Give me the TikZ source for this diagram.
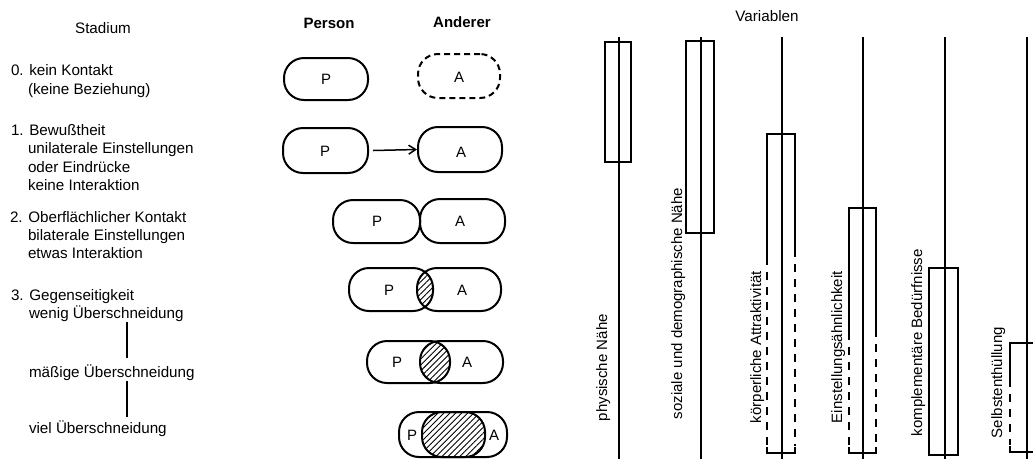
\documentclass[tikz,border=0pt]{standalone}
\usepackage{fontspec}
\setmainfont{Liberation Sans}
\usetikzlibrary{arrows.meta,patterns.meta}
\begin{document}
\begin{tikzpicture}[x=1pt,y=-1pt,
  txt/.style={inner sep=0pt,outer sep=0pt,font=\fontsize{15.2}{18}\selectfont},
  lbl/.style={txt,anchor=base west},
  hdr/.style={txt,anchor=base},
  bhdr/.style={txt,anchor=base,font=\bfseries\fontsize{15}{18}\selectfont},
  caps/.style={draw,line width=2pt,rounded corners=20pt,inner sep=0pt,outer sep=0pt},
  dcaps/.style={caps,dash pattern=on 6pt off 4pt},
  letter/.style={txt,font=\fontsize{15}{18}\selectfont},
  link/.style={line width=1.2pt},
  axis/.style={line width=2.3pt},
  bar/.style={line width=1.8pt},
  dbar/.style={line width=1.8pt,dash pattern=on 8pt off 7pt},
  vlab/.style={txt,rotate=90,anchor=base west,font=\fontsize{15}{18}\selectfont},
  hatch/.style={pattern={Lines[angle=45,distance=4.2pt,line width=0.9pt]}}]
\useasboundingbox (0,0) rectangle (1033,459);

% ---------- left column ----------
\node[hdr] (stadium) at (103,33) {Stadium};
\node[lbl] (t0a) at (11,75) {0. kein Kontakt};
\node[lbl] (t0b) at (28,94) {(keine Beziehung)};
\node[lbl] (t1a) at (11,135) {1. Bewußtheit};
\node[lbl] (t1b) at (28,153) {unilaterale Einstellungen};
\node[lbl] (t1c) at (28,172) {oder Eindrücke};
\node[lbl] (t1d) at (28,190) {keine Interaktion};
\node[lbl] (t2a) at (10,222) {2. Oberflächlicher Kontakt};
\node[lbl] (t2b) at (28,240) {bilaterale Einstellungen};
\node[lbl] (t2c) at (28,258) {etwas Interaktion};
\node[lbl] (t3a) at (11,300) {3. Gegenseitigkeit};
\node[lbl] (t3b) at (29,318) {wenig Überschneidung};
\node[lbl] (t3c) at (29,377) {mäßige Überschneidung};
\node[lbl] (t3d) at (29,433) {viel Überschneidung};
\coordinate (c1) at (127,322);
\coordinate (c2) at (127,358);
\coordinate (c3) at (127,381);
\coordinate (c4) at (127,417);
\draw[link] (c1) -- (c2);
\draw[link] (c3) -- (c4);

% ---------- middle column ----------
\node[bhdr] (person) at (329,28) {Person};
\node[bhdr] (anderer) at (462,27) {Anderer};

% row 0
\node[caps,minimum width=84pt,minimum height=42pt] (P0) at (326,79) {};
\node[dcaps,minimum width=82pt,minimum height=44pt] (A0) at (459,76) {};
\node[letter] (p0) at (326,79) {P};
\node[letter] (a0) at (459,77) {A};
% row 1
\node[caps,minimum width=85pt,minimum height=45pt] (P1) at (325.5,150.5) {};
\node[caps,minimum width=84pt,minimum height=45pt] (A1) at (460,149.5) {};
\node[letter] (p1) at (325,151) {P};
\node[letter] (a1) at (461,152) {A};
\draw[line width=1.5pt,-{Straight Barb[length=7pt,width=9pt,line width=1.5pt]}]
  ([xshift=5pt]P1.east) -- ([xshift=-1pt]A1.west);
% row 2
\node[caps,minimum width=87pt,minimum height=43pt] (P2) at (376.5,221.5) {};
\node[caps,minimum width=85pt,minimum height=44pt] (A2) at (462.5,221) {};
\node[letter] (p2) at (377,221) {P};
\node[letter] (a2) at (460,221) {A};
% row 3
\node[caps,draw=none,minimum width=84pt,minimum height=43pt] (P3) at (391,289.5) {};
\node[caps,draw=none,minimum width=84pt,minimum height=43pt] (A3) at (459,289.5) {};
% row 4
\node[caps,draw=none,minimum width=83pt,minimum height=42pt] (P4) at (408.5,362) {};
\node[caps,draw=none,minimum width=83pt,minimum height=42pt] (A4) at (461.5,362) {};
% row 5
\node[caps,draw=none,minimum width=86pt,minimum height=45pt] (P5) at (442,434.5) {};
\node[caps,draw=none,minimum width=85pt,minimum height=45pt] (A5) at (464.5,434.5) {};

\foreach \r in {3,4,5}{
  \begin{scope}
    \clip[rounded corners=20pt] (P\r.north west) rectangle (P\r.south east);
    \fill[hatch,rounded corners=20pt] (A\r.north west) rectangle (A\r.south east);
  \end{scope}
  \draw[line width=2pt,rounded corners=20pt] (P\r.north west) rectangle (P\r.south east);
  \draw[line width=2pt,rounded corners=20pt] (A\r.north west) rectangle (A\r.south east);
}
\node[letter] (p3) at (389,290) {P};
\node[letter] (a3) at (462,290) {A};
\node[letter] (p4) at (397,362) {P};
\node[letter] (a4) at (467,362) {A};
\node[letter,fill=white,inner sep=0.5pt] (p5) at (412,435) {P};
\node[letter,fill=white,inner sep=0.5pt] (a5) at (494,435) {A};

% ---------- right part ----------
\node[hdr] (variablen) at (767,21) {Variablen};

% axes
\foreach \i/\x in {1/619,2/701,3/782,4/863,5/945,6/1027}{
  \coordinate (v\i t) at (\x,37);
  \coordinate (v\i b) at (\x,459);
}

% column 1
\draw[bar] (605,42) rectangle (631,162);
% column 2
\draw[bar] (686,41) rectangle (714,233);
% column 3
\draw[bar] (767,265) -- (767,134) -- (795,134) -- (795,257);
\draw[dbar] (767,272) -- (767,446);
\draw[dbar] (795,264) -- (795,446);
\draw[bar] (767,447) -- (767,453) -- (795,453) -- (795,447);
% column 4
\draw[bar] (849,340) -- (849,208) -- (876,208) -- (876,337);
\draw[dbar] (849,347) -- (849,446);
\draw[dbar] (876,344) -- (876,446);
\draw[bar] (849,447) -- (849,453) -- (876,453) -- (876,447);
% column 5
\draw[bar] (929,268) rectangle (958,455);
% column 6
\draw[bar] (1010,387) -- (1010,343) -- (1040,343);
\draw[dbar] (1010,394) -- (1010,445);
\draw[bar] (1010,446) -- (1010,452) -- (1040,452);

\foreach \i in {1,...,6}{
  \draw[axis] (v\i t) -- (v\i b);
}

% rotated labels
\node[vlab] (l1) at (607,421) {physische Nähe};
\node[vlab] (l2) at (682,419) {soziale und demographische Nähe};
\node[vlab] (l3) at (761,423) {körperliche Attraktivität};
\node[vlab] (l4) at (842,423) {Einstellungsähnlichkeit};
\node[vlab] (l5) at (922,436) {komplementäre Bedürfnisse};
\node[vlab] (l6) at (1002,438) {Selbstenthüllung};
\end{tikzpicture}
\end{document}
